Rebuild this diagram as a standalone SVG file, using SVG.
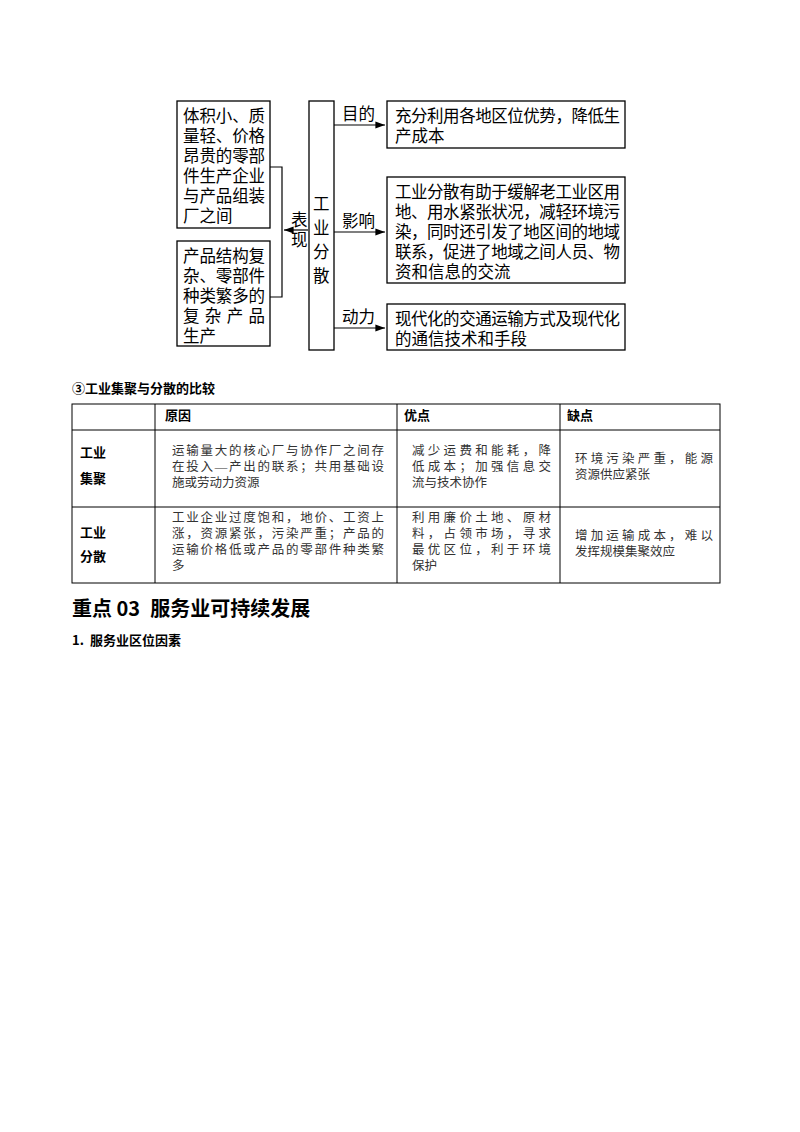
<svg xmlns="http://www.w3.org/2000/svg" width="800" height="1132" viewBox="0 0 800 1132">
<style>
text{font-family:"Liberation Serif","Noto Sans CJK SC",serif;fill:#000}
.b{fill:#fff;stroke:#000;stroke-width:1.3}
.d{font-size:16.5px}
.l{stroke:#000;stroke-width:1.2;fill:none}
.t{font-size:12.5px;fill:#333}
.h{font-family:"Noto Sans CJK SC",sans-serif;font-weight:bold;font-size:13px}
.g{stroke:#000;stroke-width:1;fill:none}
</style>
<defs><marker id="a" markerWidth="8" markerHeight="6" refX="8" refY="3" orient="auto"><path d="M0,0L8,3L0,6z" fill="#000"/></marker></defs>
<rect width="800" height="1132" fill="#fff"/>
<g id="n1"><rect class="b" x="177" y="101" width="93" height="127"/>
<text class="d" x="183" y="122" textLength="82">体积小、质</text><text class="d" x="183" y="142" textLength="82">量轻、价格</text><text class="d" x="183" y="162" textLength="82">昂贵的零部</text><text class="d" x="183" y="182" textLength="82">件生产企业</text><text class="d" x="183" y="202" textLength="82">与产品组装</text><text class="d" x="183" y="222">厂之间</text></g>
<g id="n2"><rect class="b" x="177" y="241" width="93" height="105"/>
<text class="d" x="183" y="262" textLength="82">产品结构复</text><text class="d" x="183" y="282" textLength="82">杂、零部件</text><text class="d" x="183" y="302" textLength="82">种类繁多的</text><text class="d" x="183" y="322" textLength="82">复杂产品</text><text class="d" x="183" y="342">生产</text></g>
<g id="n3"><rect class="b" x="309" y="101" width="25" height="249"/>
<text class="d" x="313" y="210">工</text><text class="d" x="313" y="234">业</text><text class="d" x="313" y="258">分</text><text class="d" x="313" y="282">散</text></g>
<g id="n4"><rect class="b" x="387" y="101" width="238" height="47"/>
<text class="d" x="395" y="122" textLength="225">充分利用各地区位优势，降低生</text><text class="d" x="395" y="142">产成本</text></g>
<g id="n5"><rect class="b" x="387" y="177" width="238" height="106"/>
<text class="d" x="395" y="198" textLength="225">工业分散有助于缓解老工业区用</text><text class="d" x="395" y="218" textLength="225">地、用水紧张状况，减轻环境污</text><text class="d" x="395" y="238" textLength="225">染，同时还引发了地区间的地域</text><text class="d" x="395" y="258" textLength="225">联系，促进了地域之间人员、物</text><text class="d" x="395" y="278">资和信息的交流</text></g>
<g id="n6"><rect class="b" x="387" y="304" width="238" height="46"/>
<text class="d" x="395" y="325" textLength="225">现代化的交通运输方式及现代化</text><text class="d" x="395" y="345">的通信技术和手段</text></g>
<g id="connectors">
<path class="l" d="M334,125H385" marker-end="url(#a)"/><path class="l" d="M334,232H385" marker-end="url(#a)"/><path class="l" d="M334,328H385" marker-end="url(#a)"/>
<path class="l" d="M270,167H282V297H270"/><path class="l" d="M308,230H284" marker-end="url(#a)"/>
<text class="d" x="342" y="120">目的</text><text class="d" x="342" y="227">影响</text><text class="d" x="342" y="323">动力</text>
<text class="d" x="291" y="226">表</text><text class="d" x="291" y="246">现</text>
</g>
<text class="h" x="72" y="393">③工业集聚与分散的比较</text>
<g id="table">
<rect class="g" x="72" y="404" width="648" height="179"/>
<path class="g" d="M72,430H720M72,507H720M155,404V583M397,404V583M560,404V583"/>
<text class="h" x="165" y="420">原因</text><text class="h" x="404" y="420">优点</text><text class="h" x="567" y="420">缺点</text>
<text class="h" x="80" y="457">工业</text><text class="h" x="80" y="483">集聚</text>
<text class="h" x="80" y="537">工业</text><text class="h" x="80" y="561">分散</text>
<text class="t" x="172" y="455" textLength="212">运输量大的核心厂与协作厂之间存</text><text class="t" x="172" y="471" textLength="212">在投入—产出的联系；共用基础设</text><text class="t" x="172" y="487">施或劳动力资源</text>
<text class="t" x="412" y="455" textLength="139">减少运费和能耗，降</text><text class="t" x="412" y="471" textLength="139">低成本；加强信息交</text><text class="t" x="412" y="487">流与技术协作</text>
<text class="t" x="575" y="463" textLength="138">环境污染严重，能源</text><text class="t" x="575" y="479">资源供应紧张</text>
<text class="t" x="172" y="522" textLength="212">工业企业过度饱和，地价、工资上</text><text class="t" x="172" y="538" textLength="212">涨，资源紧张，污染严重；产品的</text><text class="t" x="172" y="554" textLength="212">运输价格低或产品的零部件种类繁</text><text class="t" x="172" y="570">多</text>
<text class="t" x="412" y="522" textLength="139">利用廉价土地、原材</text><text class="t" x="412" y="538" textLength="139">料，占领市场，寻求</text><text class="t" x="412" y="554" textLength="139">最优区位，利于环境</text><text class="t" x="412" y="570">保护</text>
<text class="t" x="575" y="540" textLength="138">增加运输成本，难以</text><text class="t" x="575" y="556">发挥规模集聚效应</text>
</g>
<text x="72" y="616" style="font-family:'Noto Sans CJK SC',sans-serif;font-weight:bold;font-size:20px">重点 03<tspan dx="10">服务业可持续发展</tspan></text>
<text class="h" x="72" y="645">1.<tspan dx="6">服务业区位因素</tspan></text>
</svg>
